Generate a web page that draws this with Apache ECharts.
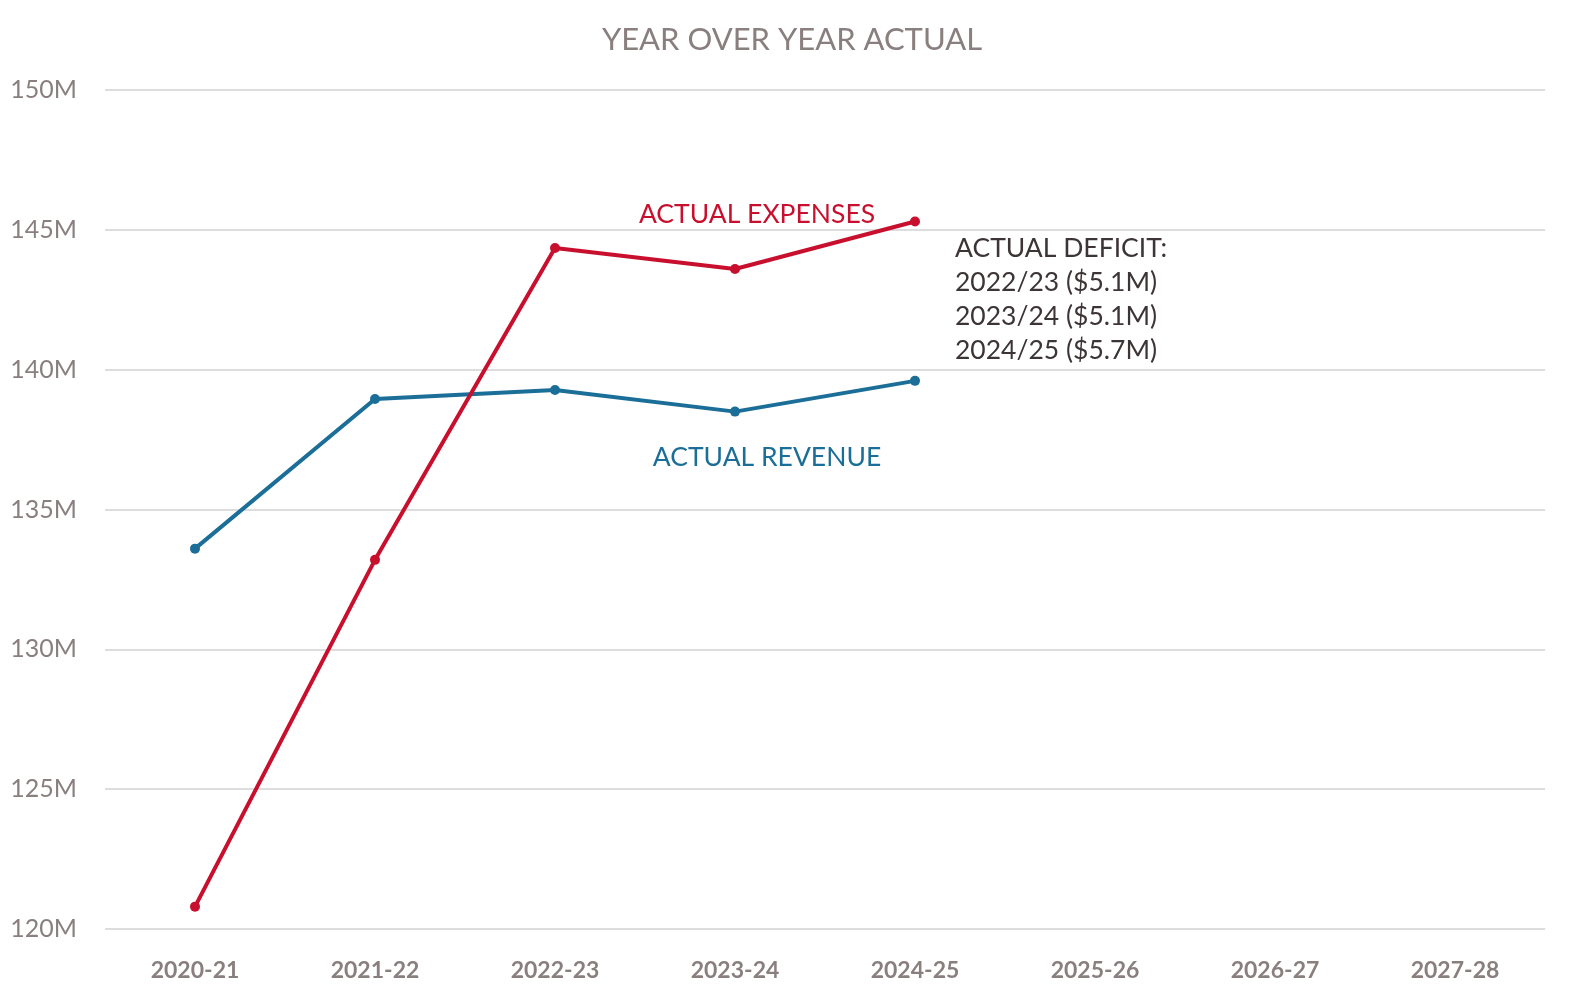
<!DOCTYPE html>
<html>
<head>
<meta charset="utf-8">
<script src="https://cdn.jsdelivr.net/npm/echarts@6/dist/echarts.min.js"></script>
<style>
  html, body { margin: 0; padding: 0; background: #fff; }
  #main { width: 1584px; height: 1008px; }
</style>
</head>
<body>
<div id="main"></div>
<script>
var years = ['2020-21', '2021-22', '2022-23', '2023-24', '2024-25', '2025-26', '2026-27', '2027-28'];
// values in millions
var expenses = [120.8, 133.2, 144.35, 143.6, 145.3];
var revenue = [133.6, 138.95, 139.27, 138.5, 139.6];
var deficitLines = ['ACTUAL DEFICIT:', '2022/23 ($5.1M)', '2023/24 ($5.1M)', '2024/25 ($5.7M)'];

var FONT = 'Lato, "Open Sans", sans-serif';
var RED = '#c8102e';
var BLUE = '#1b6e97';
var GREY = '#8a7f7f';

var myChart = echarts.init(document.getElementById('main'));
myChart.setOption({
  animation: false,
  title: {
    text: 'YEAR OVER YEAR ACTUAL',
    left: 'center',
    top: 19,
    textStyle: { color: GREY, fontFamily: FONT, fontSize: 31, fontWeight: 'normal' }
  },
  grid: { left: 105, right: 39, top: 90, bottom: 79 },
  xAxis: {
    type: 'category',
    data: years,
    boundaryGap: true,
    axisLine: { show: false },
    axisTick: { show: false },
    axisLabel: { color: GREY, fontFamily: FONT, fontSize: 23, fontWeight: 'bold', margin: 30 }
  },
  yAxis: {
    type: 'value',
    min: 120, max: 150, interval: 5,
    axisLine: { show: false },
    axisTick: { show: false },
    splitLine: { lineStyle: { color: '#dddddd', width: 2 } },
    axisLabel: {
      color: GREY, fontFamily: FONT, fontSize: 25, margin: 28,
      formatter: function (v) { return v + 'M'; }
    }
  },
  series: [
    {
      name: 'Actual Revenue', type: 'line', data: revenue,
      symbol: 'circle', symbolSize: 10,
      lineStyle: { color: BLUE, width: 4 },
      itemStyle: { color: BLUE }
    },
    {
      name: 'Actual Expenses', type: 'line', data: expenses,
      symbol: 'circle', symbolSize: 10,
      lineStyle: { color: RED, width: 4 },
      itemStyle: { color: RED }
    }
  ]
});

// annotations placed relative to the data
var pExp = myChart.convertToPixel({ seriesIndex: 1 }, [3, expenses[3]]);
var pRev = myChart.convertToPixel({ seriesIndex: 0 }, [3, revenue[3]]);
var pEnd = myChart.convertToPixel({ seriesIndex: 1 }, [4, expenses[4]]);
var graphics = [
  {
    type: 'text', x: pExp[0] + 22, y: pExp[1] - 55,
    style: { text: 'ACTUAL EXPENSES', fill: RED, font: '26.5px ' + FONT, align: 'center', verticalAlign: 'middle' }
  },
  {
    type: 'text', x: pRev[0] + 32, y: pRev[1] + 46,
    style: { text: 'ACTUAL REVENUE', fill: BLUE, font: '26.5px ' + FONT, align: 'center', verticalAlign: 'middle' }
  }
];
deficitLines.forEach(function (t, i) {
  graphics.push({
    type: 'text', x: pEnd[0] + 40, y: pEnd[1] + 27 + i * 34,
    style: { text: t, fill: '#3d3535', font: '26.5px ' + FONT, align: 'left', verticalAlign: 'middle' }
  });
});
myChart.setOption({ graphic: graphics });
</script>
</body>
</html>
